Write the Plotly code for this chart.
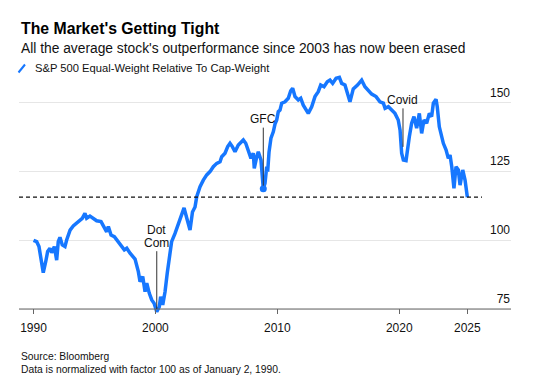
import plotly.graph_objects as go
import numpy as np

# Decimal years
years = [
    1990.00, 1990.26, 1990.45, 1990.59, 1990.80,
    1991.00, 1991.16, 1991.35, 1991.49, 1991.71, 1991.90,
    1992.03, 1992.17, 1992.36, 1992.58, 1992.72,
    1993.00, 1993.26, 1993.54, 1993.81,
    1994.00, 1994.22, 1994.36, 1994.63, 1994.91,
    1995.18, 1995.54, 1995.73,
    1996.00, 1996.14, 1996.36, 1996.63, 1996.91,
    1997.18, 1997.45, 1997.65, 1997.92,
    1998.33, 1998.60, 1998.74, 1998.96,
    1999.15, 1999.29, 1999.50, 1999.70, 1999.89,
    2000.11, 2000.32, 2000.43, 2000.60, 2000.79, 2000.97,
    2001.14, 2001.33, 2001.61, 2001.88,
    2002.16, 2002.35, 2002.57, 2002.84,
    2003.04, 2003.25, 2003.39, 2003.66, 2003.93,
    2004.21, 2004.48, 2004.75,
    2005.03, 2005.30, 2005.44, 2005.71, 2005.93,
    2006.12, 2006.31, 2006.53, 2006.80,
    2007.02, 2007.21, 2007.41, 2007.62, 2007.84,
    2008.03, 2008.11, 2008.31, 2008.44, 2008.66, 2008.77, 2008.85, 2008.99,
    2009.13, 2009.21, 2009.32, 2009.48, 2009.67, 2009.81, 2009.95,
    2010.08, 2010.22, 2010.36, 2010.63, 2010.90,
    2011.10, 2011.26, 2011.45, 2011.72, 2011.92,
    2012.13, 2012.35, 2012.54, 2012.82,
    2013.09, 2013.36, 2013.56, 2013.83,
    2014.10, 2014.32, 2014.54, 2014.82,
    2015.09, 2015.28, 2015.55, 2015.96,
    2016.23, 2016.58, 2016.92,
    2017.19, 2017.46, 2017.74,
    2018.10, 2018.42, 2018.70, 2018.84,
    2019.11, 2019.38, 2019.65, 2019.92,
    2020.07, 2020.20, 2020.34, 2020.56, 2020.66, 2020.83,
    2021.02, 2021.21, 2021.43, 2021.65, 2021.84,
    2022.03, 2022.25, 2022.47, 2022.66, 2022.80,
    2023.02, 2023.12, 2023.29, 2023.49, 2023.62, 2023.84,
    2024.03, 2024.17, 2024.31, 2024.49, 2024.66, 2024.85, 2024.99,
    2025.21, 2025.40, 2025.59,
]

# S&P 500 Equal-Weight relative to Cap-Weight (100 = Jan 2, 1990)
values = [
    100.0, 99.5, 97.7, 94.0, 88.2,
    92.2, 95.9, 97.1, 95.5, 97.7, 92.8,
    99.5, 101.1, 98.3, 97.7, 100.1,
    103.7, 105.2, 106.2, 107.1,
    108.0, 109.8, 108.0, 108.8, 108.0,
    107.1, 106.8, 105.2,
    103.1, 105.0, 101.9, 101.3, 99.5,
    97.7, 96.5, 97.1, 95.3,
    93.2, 88.6, 84.9, 86.8,
    81.3, 84.4, 80.7, 78.3, 77.1,
    74.0, 75.8, 79.5, 76.5, 81.3, 88.0,
    94.0, 99.5, 102.5, 105.9,
    109.6, 111.8, 108.1, 103.7,
    110.3, 112.1, 115.9, 119.5, 121.9,
    123.8, 125.0, 126.8,
    128.0, 128.6, 130.4, 131.7, 134.1,
    135.3, 134.1, 132.2, 134.7,
    135.9, 136.5, 135.3, 132.2, 129.8,
    131.7, 126.2, 130.4, 132.2, 129.2, 124.4, 118.8, 120.7,
    126.8, 125.0, 132.1, 137.2, 139.5, 142.3, 143.8,
    146.8, 147.4, 149.9, 150.4, 151.7,
    154.4, 155.3, 152.3, 151.1, 151.7,
    149.2, 147.4, 146.2, 148.6,
    152.3, 154.1, 156.5, 155.9,
    157.7, 158.3, 157.1, 159.0,
    159.3, 157.1, 156.5, 150.4,
    155.1, 156.5, 158.3,
    155.9, 154.7, 153.2,
    152.3, 150.4, 149.9, 148.0,
    148.6, 147.4, 146.2, 143.8,
    140.1, 131.7, 129.2, 129.0, 132.9, 137.7,
    142.6, 145.0, 140.8, 146.2, 138.9,
    143.8, 142.6, 146.2, 145.0, 149.9,
    151.3, 148.6, 141.3, 137.7, 135.3, 132.9,
    129.8, 131.0, 126.8, 118.9, 126.8, 125.6, 120.1,
    125.6, 121.9, 115.7,
]

x_tick_vals = [1990, 2000, 2010, 2020, years[-1]]
x_tick_text = ["1990", "2000", "2010", "2020", "2025"]
y_tick_vals = [75, 100, 125, 150]

FONT = "Liberation Sans, Arial, Helvetica, sans-serif"
BLUE = "#1677ff"
TXT = "#111"

XR = [1988.81, 2029.17]
YR = [73.18, 160.52]

yr = np.array(years)
vals = np.array(values)
gfc_mask = (yr > 2008.5) & (yr < 2009.5)
gfc_i = np.where(gfc_mask)[0][np.argmin(vals[gfc_mask])]
gfc_x, gfc_y = years[gfc_i], values[gfc_i]
dot_mask = (yr > 1999.5) & (yr < 2000.5)
dot_i = np.where(dot_mask)[0][np.argmin(vals[dot_mask])]
dot_x = years[dot_i]

# page body adds an 8px offset; compensate in margins
OFF = 8
W, H = 539, 382
PL, PT, PW, PH = 19, 74, 492, 240          # plot area as seen on screen
L, T = PL - OFF, PT - OFF
R, B = W - L - PW, H - T - PH

def px(xp):
    return (xp - PL) / PW

def py(yp):
    return (PT + PH - yp) / PH

fig = go.Figure()
fig.add_trace(go.Scatter(x=years, y=values, mode="lines",
                         line=dict(color=BLUE, width=3.5),
                         showlegend=False, hoverinfo="skip"))
fig.add_trace(go.Scatter(x=[gfc_x], y=[gfc_y], mode="markers",
                         marker=dict(color=BLUE, size=7),
                         showlegend=False, hoverinfo="skip"))

fig.update_layout(
    width=W, height=H,
    margin=dict(l=L, r=R, t=T, b=B, pad=0),
    paper_bgcolor="white", plot_bgcolor="white",
    font=dict(family=FONT, color=TXT, size=12),
    xaxis=dict(range=XR, showgrid=False, zeroline=False,
               showline=False, tickvals=x_tick_vals, ticktext=x_tick_text,
               ticks="inside", ticklen=5, tickcolor="#666", tickwidth=1,
               ticklabelstandoff=5,
               tickfont=dict(size=12, color=TXT)),
    yaxis=dict(range=YR, side="right", tickvals=y_tick_vals,
               showgrid=True, gridcolor="#e6e6e6", gridwidth=1,
               zeroline=False, showline=False, ticks="",
               ticklabelposition="inside top", ticklabelshift=-2,
               ticklabelstandoff=-2,
               tickfont=dict(size=12, color=TXT)),
    showlegend=False,
)

shapes = [
    dict(type="line", xref="paper", yref="y", x0=0, x1=1, y0=75, y1=75,
         line=dict(color="#666", width=1.2)),
    dict(type="line", xref="paper", yref="y", x0=0, x1=px(482), y0=values[-1], y1=values[-1],
         line=dict(color="#111", width=1.2, dash="4px,3px")),
    dict(type="line", xref="paper", yref="paper", x0=px(18.5), x1=px(25), y0=py(72.5), y1=py(64.5),
         line=dict(color=BLUE, width=2)),
]
fig.update_layout(shapes=shapes)

def label(xp, yp, text, size, color=TXT):
    return dict(xref="paper", yref="paper", x=px(xp), y=py(yp), xanchor="left", yanchor="middle",
                text=text, showarrow=False, font=dict(size=size, color=color))

annotations = [
    label(19, 28, "<b>The Market's Getting Tight</b>", 15.8, "#000"),
    label(19, 49, "All the average stock's outperformance since 2003 has now been erased", 13.8),
    label(33, 68, "S&P 500 Equal-Weight Relative To Cap-Weight", 11.2),
    label(19, 356.7, "Source: Bloomberg", 10.3),
    label(19, 369, "Data is normalized with factor 100 as of January 2, 1990.", 10.3),
    dict(x=gfc_x, y=gfc_y, text="GFC", showarrow=True, arrowhead=0, arrowwidth=1,
         arrowcolor="#333", ax=0, ay=-69.5, standoff=3, font=dict(size=12, color=TXT)),
    dict(x=2020.31, y=134.0, text="Covid", showarrow=True, arrowhead=0, arrowwidth=1,
         arrowcolor="#333", ax=0, ay=-47, font=dict(size=12, color=TXT)),
    dict(x=dot_x, y=75, text="Com", showarrow=True, arrowhead=0, arrowwidth=1,
         arrowcolor="#333", ax=0, ay=-66.3, font=dict(size=12, color=TXT)),
    dict(x=dot_x, y=75, text="Dot", showarrow=False, yshift=79, xanchor="center",
         yanchor="middle", font=dict(size=12, color=TXT)),
]
fig.update_layout(annotations=annotations)

fig.write_html("out.html")
